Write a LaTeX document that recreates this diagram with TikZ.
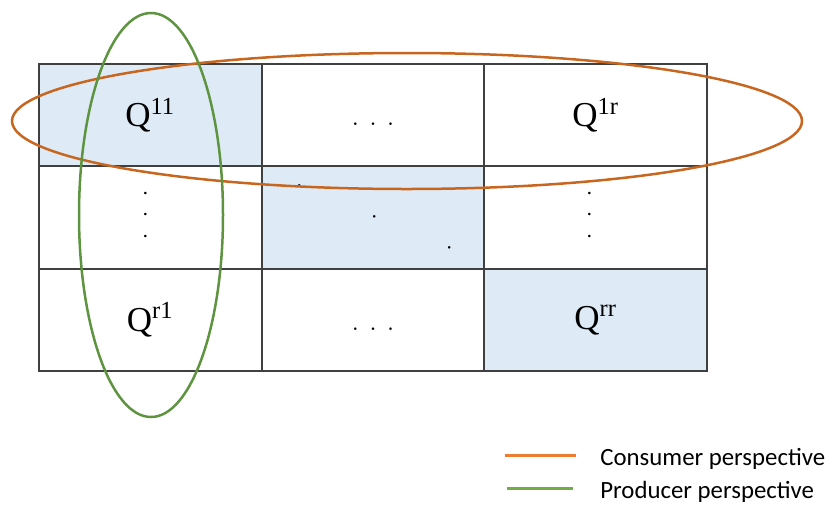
\documentclass[tikz,border=0pt]{standalone}
\usepackage{fontspec}
\newfontfamily\legendfont{Carlito}
\newfontfamily\cellfont{Liberation Serif}
\definecolor{cellblue}{RGB}{222,235,247}
\definecolor{consorange}{RGB}{200,102,31}
\definecolor{prodgreen}{RGB}{94,148,64}
\definecolor{keyorange}{RGB}{237,125,49}
\definecolor{keygreen}{RGB}{112,173,71}
\usetikzlibrary{positioning}

\begin{document}
\begin{tikzpicture}[x=0.5pt, y=-0.5pt,
    cel/.style={rectangle, minimum width=111.33pt, minimum height=51.17pt,
      inner sep=0pt, outer sep=0pt, draw=black!75, line width=1pt,
      font=\cellfont\fontsize{17.5}{20}\selectfont},
    dts/.style={inner sep=0pt, font=\fontsize{16}{19}\selectfont},
    perim/.style={line width=1.25pt},
    key/.style={line width=1.5pt},
    keytxt/.style={anchor=west, inner sep=0pt, font=\legendfont\fontsize{12.4}{14}\selectfont}
  ]
    \useasboundingbox (0,0) rectangle (833,504);

    % Row 1
    \node[cel, fill=cellblue] (c11) at (150.3,115.2) {Q\textsuperscript{11}};
    \node[cel]                (c12) at (373,115.2)   {};
    \node[cel]                (c13) at (595.7,115.2) {Q\textsuperscript{1r}};

    % Row 2
    \node[cel]                (c21) at (150.3,217.5) {};
    \node[cel, fill=cellblue] (c22) at (373,217.5)   {};
    \node[cel]                (c23) at (595.7,217.5) {};

    % Row 3
    \node[cel]                (c31) at (150.3,319.8) {Q\textsuperscript{r1}};
    \node[cel]                (c32) at (373,319.8)   {};
    \node[cel, fill=cellblue] (c33) at (595.7,319.8) {Q\textsuperscript{rr}};

    % dots
    \node[dts, anchor=base] (hd1) at (373,125) {.~.~.};
    \node[dts, anchor=base] (hd2) at (373,330) {.~.~.};
    \node[dts, rotate=-90] (vd1) at (146,215) {.\hspace{6.6pt}.\hspace{6.6pt}.};
    \node[dts, rotate=-90] (vd2) at (590,215) {.\hspace{6.6pt}.\hspace{6.6pt}.};
    \node[dts, rotate=-22.5] (dd) at (375,217) {.\hspace{36.5pt}.\hspace{36.5pt}.};

    % perspectives
    \draw[perim, consorange] (407,121) ellipse [x radius=197.5pt, y radius=34pt];
    \draw[perim, prodgreen] (151,215) ellipse [x radius=36pt, y radius=101pt];

    % Legend
    \coordinate (ck1) at (505,455);
    \coordinate (ck2) at (576,455);
    \coordinate (pk1) at (507,488);
    \coordinate (pk2) at (573,488);
    \draw[key, keyorange] (ck1) -- (ck2);
    \draw[key, keygreen] (pk1) -- (pk2);
    \node[keytxt] (ctxt) at (600,459) {Consumer perspective};
    \node[keytxt] (ptxt) at (600,492) {Producer perspective};
  \end{tikzpicture}
\end{document}
